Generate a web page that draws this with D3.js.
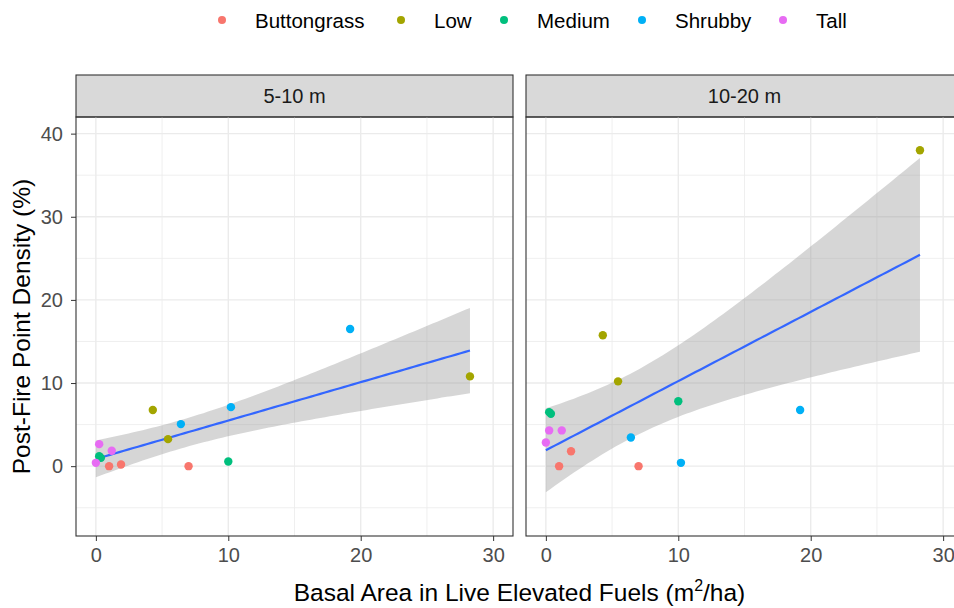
<!DOCTYPE html>
<html>
<head>
<meta charset="utf-8">
<script src="https://cdn.jsdelivr.net/npm/d3@7"></script>
<style>
  body { margin: 0; background: #fff; }
  svg { font-family: "Liberation Sans", Arial, sans-serif; }
</style>
</head>
<body>
<div id="chart"></div>
<script>
// Vegetation classes and colours (ggplot default hue palette)
const classes = ["Buttongrass", "Low", "Medium", "Shrubby", "Tall"];
const colors = ["#F8766D", "#A3A500", "#00BF7D", "#00B0F6", "#E76BF3"];

// Facet labels
const panels = ["5-10 m", "10-20 m"];

// Basal area (x) per point, same in both panels
const ptClass = ["Buttongrass", "Buttongrass", "Buttongrass", "Low", "Low", "Low",
                 "Medium", "Medium", "Medium", "Shrubby", "Shrubby", "Shrubby", "Tall", "Tall", "Tall"];
const basalArea = [1.0, 1.9, 7.0, 4.3, 5.45, 28.25, 0.25, 0.38, 10.0, 6.42, 10.2, 19.2, 0, 0.25, 1.2];

// Post-fire point density (y) per panel
const density5to10 = [0, 0.2, 0, 6.75, 3.25, 10.8, 1.2, 1.0, 0.56, 5.06, 7.1, 16.5, 0.4, 2.65, 1.85];
const density10to20 = [0, 1.8, 0, 15.74, 10.2, 38.0, 6.5, 6.3, 7.8, 3.45, 0.4, 6.75, 2.85, 4.3, 4.3];

const xTicks = [0, 10, 20, 30];
const yTicks = [0, 10, 20, 30, 40];

let W = 954, H = 608;
let svg = d3.select("#chart").append("svg")
    .attr("width", W).attr("height", H);

let panelW = 437, gap = 13;
let panelLeft = [76, 76 + panelW + gap];
let stripTop = 75, plotTop = 117, plotBottom = 536;
let smallFont = 20, titleFont = 24.5;

let yScale = d3.scaleLinear().domain([-8.4, 42]).range([plotBottom, plotTop]);

// lm fit with 95% confidence band (like geom_smooth(method = "lm"))
function lmFit(xs, ys) {
    let n = xs.length;
    let mx = d3.mean(xs), my = d3.mean(ys);
    let sxx = d3.sum(xs, x => (x - mx) * (x - mx));
    let sxy = d3.sum(xs, (x, i) => (x - mx) * (ys[i] - my));
    let b = sxy / sxx, a = my - b * mx;
    let sse = d3.sum(xs, (x, i) => Math.pow(ys[i] - (a + b * x), 2));
    let s = Math.sqrt(sse / (n - 2));
    let t = 2.160; // t(0.975, df = 13)
    let lo = d3.min(xs), hi = d3.max(xs);
    return d3.range(0, 81).map(k => {
        let x = lo + (hi - lo) * k / 80;
        let fit = a + b * x;
        let se = s * Math.sqrt(1 / n + (x - mx) * (x - mx) / sxx);
        return {x: x, fit: fit, lo: fit - t * se, hi: fit + t * se};
    });
}

[density5to10, density10to20].forEach(function(ys, p) {
    let x0 = panelLeft[p];
    let xScale = d3.scaleLinear().domain([-1.5, 31.5]).range([x0, x0 + panelW]);
    let g = svg.append("g");

    // strip
    g.append("rect")
        .attr("x", x0).attr("y", stripTop)
        .attr("width", panelW).attr("height", plotTop - stripTop)
        .attr("fill", "#D9D9D9").attr("stroke", "#333333").attr("stroke-width", 1.1);
    g.append("text")
        .attr("x", x0 + panelW / 2).attr("y", (stripTop + plotTop) / 2 + 7)
        .attr("text-anchor", "middle").attr("font-size", smallFont).attr("fill", "#1A1A1A")
        .text(panels[p]);

    // grid
    let minorX = [-5, 5, 15, 25, 35], minorY = [-5, 5, 15, 25, 35];
    g.selectAll(".mx").data(minorX.filter(v => xScale(v) > x0 && xScale(v) < x0 + panelW)).enter()
        .append("line").attr("x1", d => xScale(d)).attr("x2", d => xScale(d))
        .attr("y1", plotTop).attr("y2", plotBottom)
        .attr("stroke", "#EBEBEB").attr("stroke-width", 0.8);
    g.selectAll(".my").data(minorY).enter()
        .append("line").attr("y1", d => yScale(d)).attr("y2", d => yScale(d))
        .attr("x1", x0).attr("x2", x0 + panelW)
        .attr("stroke", "#EBEBEB").attr("stroke-width", 0.8);
    g.selectAll(".gx").data(xTicks).enter()
        .append("line").attr("x1", d => xScale(d)).attr("x2", d => xScale(d))
        .attr("y1", plotTop).attr("y2", plotBottom)
        .attr("stroke", "#EBEBEB").attr("stroke-width", 1.4);
    g.selectAll(".gy").data(yTicks).enter()
        .append("line").attr("y1", d => yScale(d)).attr("y2", d => yScale(d))
        .attr("x1", x0).attr("x2", x0 + panelW)
        .attr("stroke", "#EBEBEB").attr("stroke-width", 1.4);

    // smooth
    let fit = lmFit(basalArea, ys);
    g.append("path").datum(fit)
        .attr("d", d3.area().x(d => xScale(d.x)).y0(d => yScale(d.lo)).y1(d => yScale(d.hi)))
        .attr("fill", "#999999").attr("fill-opacity", 0.4);
    g.append("path").datum(fit)
        .attr("d", d3.line().x(d => xScale(d.x)).y(d => yScale(d.fit)))
        .attr("fill", "none").attr("stroke", "#3366FF").attr("stroke-width", 2.2);

    // points
    g.selectAll(".pt").data(ys).enter()
        .append("circle")
        .attr("cx", (d, i) => xScale(basalArea[i]))
        .attr("cy", d => yScale(d))
        .attr("r", 4.2)
        .attr("fill", (d, i) => colors[classes.indexOf(ptClass[i])]);

    // border
    g.append("rect")
        .attr("x", x0).attr("y", plotTop)
        .attr("width", panelW).attr("height", plotBottom - plotTop)
        .attr("fill", "none").attr("stroke", "#333333").attr("stroke-width", 1.1);

    // x axis
    let xa = g.append("g")
        .attr("transform", "translate(0," + plotBottom + ")")
        .call(d3.axisBottom(xScale).tickValues(xTicks).tickSize(5).tickPadding(7));
    xa.select(".domain").remove();
    xa.selectAll("line").attr("stroke", "#333333");
    xa.selectAll("text").attr("font-size", smallFont).attr("fill", "#4D4D4D")
        .attr("font-family", "Liberation Sans, Arial, sans-serif");

    // y axis only on first panel
    if (p == 0) {
        let ya = g.append("g")
            .attr("transform", "translate(" + x0 + ",0)")
            .call(d3.axisLeft(yScale).tickValues(yTicks).tickSize(5).tickPadding(8));
        ya.select(".domain").remove();
        ya.selectAll("line").attr("stroke", "#333333");
        ya.selectAll("text").attr("font-size", smallFont).attr("fill", "#4D4D4D")
            .attr("font-family", "Liberation Sans, Arial, sans-serif");
    }
});

// axis titles
svg.append("text")
    .attr("transform", "translate(30," + (plotTop + plotBottom) / 2 + ")rotate(-90)")
    .attr("text-anchor", "middle").attr("font-size", titleFont).attr("fill", "#000")
    .text("Post-Fire Point Density (%)");

let xt = svg.append("text")
    .attr("x", (panelLeft[0] + panelLeft[1] + panelW) / 2).attr("y", 601)
    .attr("text-anchor", "middle").attr("font-size", titleFont).attr("fill", "#000");
xt.append("tspan").text("Basal Area in Live Elevated Fuels (m");
xt.append("tspan").attr("dy", -10).attr("font-size", 16).text("2");
xt.append("tspan").attr("dy", 10).text("/ha)");

// legend
let legendX = [222, 401, 504, 642, 783];
let leg = svg.append("g");
classes.forEach(function(c, i) {
    leg.append("circle").attr("cx", legendX[i]).attr("cy", 20).attr("r", 4).attr("fill", colors[i]);
    leg.append("text").attr("x", legendX[i] + 33)
        .attr("y", 28).attr("font-size", 20.5).attr("fill", "#000").text(c);
});
</script>
</body>
</html>
